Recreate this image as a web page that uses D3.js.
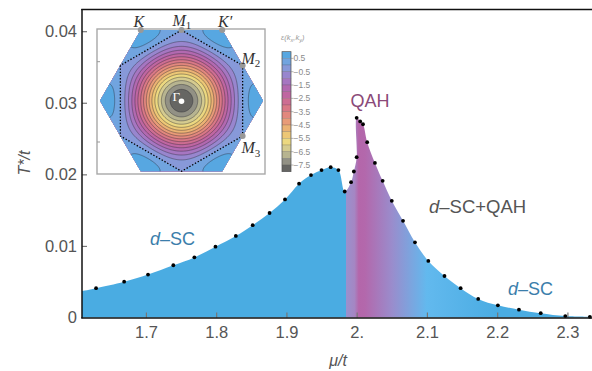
<!DOCTYPE html>
<html>
<head>
<meta charset="utf-8">
<script src="https://cdn.jsdelivr.net/npm/d3@7"></script>
<style>
  body { margin: 0; background: #fff; }
  svg { display: block; font-family: "Liberation Sans", Arial, sans-serif; }
</style>
</head>
<body>
<svg id="chart" width="592" height="371"></svg>
<script>
// transition temperature T*/t against chemical potential mu/t
const muVals = [1.629, 1.669, 1.703, 1.739, 1.769, 1.799, 1.828, 1.852, 1.876, 1.898,
  1.918, 1.935, 1.950, 1.963, 1.974, 1.983, 1.992, 1.996, 2.000, 2.000,
  2.005, 2.009, 2.015, 2.026, 2.037, 2.050, 2.066, 2.083, 2.102, 2.125,
  2.148, 2.173, 2.201, 2.231, 2.262, 2.297, 2.332];
const tVals = [0.0041, 0.0050, 0.0060, 0.0073, 0.0084, 0.0099, 0.0114, 0.0129, 0.0146, 0.0165,
  0.0187, 0.0199, 0.0206, 0.0210, 0.0206, 0.0176, 0.0189, 0.0204, 0.0224, 0.0279,
  0.0274, 0.0270, 0.0245, 0.0216, 0.0191, 0.0163, 0.0135, 0.0105, 0.0079, 0.0058,
  0.0041, 0.0026, 0.0017, 0.0011, 0.0006, 0.0002, 0.0001];
// where the filled curve meets the left frame
const edgeMu = 1.609, edgeT = 0.0037;

const xTicks = [1.7, 1.8, 1.9, 2.0, 2.1, 2.2, 2.3];
const xTickLabels = ["1.7", "1.8", "1.9", "2.", "2.1", "2.2", "2.3"];
const yTicks = [0, 0.01, 0.02, 0.03, 0.04];
const yTickLabels = ["0", "0.01", "0.02", "0.03", "0.04"];

// colour of the filled region along mu (QAH window)
const gradMu = [1.9855, 1.9855, 1.997, 2.003, 2.012, 2.05, 2.1, 2.2];
const gradColors = ["#4aace2", "#9a90cd", "#a586c3", "#b466aa", "#b368ac", "#9a8ccc", "#62b9ee", "#4aace2"];

// inset: dispersion colour scale
const barLevels = [1, 0, -1, -2, -3, -4, -5, -5.7, -6.5, -7.3, -8];
const barColors = ["#4aa9e2", "#7ea2de", "#a07dc9", "#b862a8", "#d4708a", "#e6907a",
  "#edbd72", "#eed97e", "#c9c596", "#8e8e84", "#505050"];
const barTickVals = [0.5, -0.5, -1.5, -2.5, -3.5, -4.5, -5.5, -6.5, -7.5];
const barTickLabels = ["0.5", "\u22120.5", "\u22121.5", "\u22122.5", "\u22123.5", "\u22124.5", "\u22125.5", "\u22126.5", "\u22127.5"];
const insetMu = 2;

const svg = d3.select("#chart");
const x = d3.scaleLinear().domain([1.609, 2.335]).range([82, 592]);
const y = d3.scaleLinear().domain([0, 0.0431]).range([317.5, 9]);

const points = muVals.map((m, i) => ({ mu: m, t: tVals[i] }));
const curvePts = [{ mu: edgeMu, t: edgeT }].concat(points);

// gradient along x
const defs = svg.append("defs");
const grad = defs.append("linearGradient")
  .attr("id", "phaseGrad")
  .attr("gradientUnits", "userSpaceOnUse")
  .attr("x1", x.range()[0]).attr("x2", x.range()[1])
  .attr("y1", 0).attr("y2", 0);
gradMu.forEach((m, i) => {
  grad.append("stop")
    .attr("offset", (x(m) - x.range()[0]) / (x.range()[1] - x.range()[0]))
    .attr("stop-color", gradColors[i]);
});

const area = d3.area()
  .x(d => x(d.mu))
  .y0(y(0))
  .y1(d => y(d.t))
  .curve(d3.curveCatmullRom.alpha(0.5));

svg.append("path")
  .datum(curvePts)
  .attr("d", area)
  .attr("fill", "url(#phaseGrad)");

svg.selectAll(".dot")
  .data(points)
  .enter()
  .append("circle")
  .attr("cx", d => x(d.mu))
  .attr("cy", d => y(d.t))
  .attr("r", 1.9)
  .attr("fill", "#000");

// axes
const xAxis = svg.append("g")
  .attr("transform", "translate(0," + y(0) + ")")
  .call(d3.axisBottom(x).tickValues(xTicks).tickSize(-5).tickPadding(9)
    .tickFormat((d, i) => xTickLabels[i]));
const yAxis = svg.append("g")
  .attr("transform", "translate(" + x.range()[0] + ",0)")
  .call(d3.axisLeft(y).tickValues(yTicks).tickSize(-5).tickPadding(5)
    .tickFormat((d, i) => yTickLabels[i]));
[xAxis, yAxis].forEach(g => {
  g.select(".domain").remove();
  g.selectAll(".tick line").attr("stroke", "#777").attr("stroke-width", 1.2);
  g.selectAll(".tick text").attr("fill", "#555").style("font-size", "16.5px")
    .style("font-family", "'Liberation Sans', Arial, sans-serif");
});
yAxis.selectAll(".tick").filter(d => d === 0).select("line").remove();

// frame lines (left, bottom, top)
const frame = svg.append("g").attr("stroke", "#111").attr("stroke-width", 1.5);
frame.append("line").attr("x1", 82).attr("x2", 82).attr("y1", 9).attr("y2", 318.3);
frame.append("line").attr("x1", 81.3).attr("x2", 592).attr("y1", 318).attr("y2", 318);
frame.append("line").attr("x1", 81.3).attr("x2", 592).attr("y1", 9.5).attr("y2", 9.5);

// axis titles
svg.append("text")
  .attr("x", 338).attr("y", 366)
  .attr("text-anchor", "middle")
  .attr("fill", "#555").style("font-size", "16px").style("font-style", "italic")
  .text("\u03bc/t");
svg.append("text")
  .attr("transform", "translate(30,163) rotate(-90)")
  .attr("text-anchor", "middle")
  .attr("fill", "#555").style("font-size", "16px").style("font-style", "italic")
  .text("T*/t");

// phase labels
function phaseLabel(px, py, parts, color, size) {
  const t = svg.append("text").attr("x", px).attr("y", py)
    .attr("fill", color).style("font-size", size + "px");
  parts.forEach(p => {
    t.append("tspan").style("font-style", p[1] ? "italic" : "normal").text(p[0]);
  });
}
phaseLabel(150, 245, [["d", true], ["\u2013SC", false]], "#3b7eab", 18);
phaseLabel(350.5, 107, [["QAH", false]], "#8a4a78", 18);
phaseLabel(429, 213, [["d", true], ["\u2013SC+QAH", false]], "#555", 18.5);
phaseLabel(508, 295, [["d", true], ["\u2013SC", false]], "#3b7eab", 18);

// ---------------- inset: band dispersion in the Brillouin zone ----------------
const inset = svg.append("g");
inset.append("rect")
  .attr("x", 97).attr("y", 29).attr("width", 168).attr("height", 145)
  .attr("fill", "#fff").attr("stroke", "#a8a8a8").attr("stroke-width", 1.4);
[61.7, 142].forEach(ty => {
  inset.append("line").attr("x1", 97).attr("x2", 100).attr("y1", ty).attr("y2", ty)
    .attr("stroke", "#999").attr("stroke-width", 1);
});

const cx = 181.5, cy = 100.7, R = 81.5;
const kScale = R / (4 * Math.PI / 3);
const apothem = R * Math.sqrt(3) / 2;

function band(kx, ky) {
  return -2 * (Math.cos(kx) + 2 * Math.cos(kx / 2) * Math.cos(Math.sqrt(3) * ky / 2)) - insetMu;
}

const bzHex = d3.range(6).map(i => {
  const a = i * Math.PI / 3;
  return [cx + R * Math.cos(a), cy - R * Math.sin(a)];
});
defs.append("clipPath").attr("id", "bzClip")
  .append("path").attr("d", "M" + bzHex.join("L") + "Z");

const gx0 = 98, gy0 = 28, gw = 168, gh = 148;
const field = new Float64Array(gw * gh);
for (let j = 0; j < gh; j++) {
  for (let i = 0; i < gw; i++) {
    const kx = (gx0 + i + 0.5 - cx) / kScale;
    const ky = -(gy0 + j + 0.5 - cy) / kScale;
    field[j * gw + i] = band(kx, ky);
  }
}
const levels = d3.range(-8, 1.0001, 0.5);
const color = d3.scaleLinear().domain(barLevels).range(barColors);
const contours = d3.contours().size([gw, gh]).thresholds(levels)(field);
const gpath = d3.geoPath(d3.geoIdentity().translate([gx0, gy0]));

const cg = inset.append("g").attr("clip-path", "url(#bzClip)");
cg.selectAll(".band")
  .data(contours)
  .enter()
  .append("path")
  .attr("d", gpath)
  .attr("fill", d => color(d.value + 0.25))
  .attr("stroke", "none");
cg.selectAll(".iso")
  .data(contours.filter(d => d.value > -8 && d.value < 1 && d.value !== 0))
  .enter()
  .append("path")
  .attr("d", gpath)
  .attr("fill", "none")
  .attr("stroke", "rgba(40,40,50,0.6)")
  .attr("stroke-width", 0.7);

// van Hove Fermi surface (through M points)
const mHex = d3.range(6).map(i => {
  const a = Math.PI / 2 + i * Math.PI / 3;
  return [cx + apothem * Math.cos(a), cy - apothem * Math.sin(a)];
});
inset.append("path")
  .attr("d", "M" + mHex.join("L") + "Z")
  .attr("fill", "none").attr("stroke", "#000")
  .attr("stroke-width", 1.3).attr("stroke-dasharray", "1.4,1.8");

// high-symmetry points
const kPts = [
  [cx - R / 2, cy - apothem], [cx, cy - apothem], [cx + R / 2, cy - apothem],
  [cx + apothem * Math.cos(Math.PI / 6), cy - apothem / 2],
  [cx + apothem * Math.cos(Math.PI / 6), cy + apothem / 2]
];
inset.selectAll(".kpt").data(kPts).enter().append("circle")
  .attr("cx", d => d[0]).attr("cy", d => d[1]).attr("r", 3).attr("fill", "#999");
inset.append("circle").attr("cx", cx).attr("cy", cy + 0.5).attr("r", 2.8).attr("fill", "#fff");

function symLabel(px, py, main, sub, col, size) {
  const t = inset.append("text").attr("x", px).attr("y", py)
    .attr("fill", col || "#333")
    .style("font-family", "'Liberation Serif', 'DejaVu Serif', serif")
    .style("font-size", (size || 16) + "px").style("font-style", "italic")
    .text(main);
  if (sub) {
    t.append("tspan").attr("dy", 3.5).style("font-size", "11px").style("font-style", "normal").text(sub);
  }
}
symLabel(133.5, 26.5, "K");
symLabel(172.5, 25.5, "M", "1");
symLabel(218, 26.5, "K\u2032");
symLabel(241.5, 63.5, "M", "2");
symLabel(241.5, 153, "M", "3");
inset.append("text").attr("x", 172.5).attr("y", 100.5)
  .attr("fill", "#fff")
  .style("font-family", "'Liberation Serif', 'DejaVu Serif', serif")
  .style("font-size", "13px").text("\u0393");

// colour bar
const barY = d3.scaleLinear().domain([1, -8]).range([51.7, 171.7]);
const bar = svg.append("g");
d3.range(18).forEach(i => {
  const top = 1 - 0.5 * i;
  bar.append("rect")
    .attr("x", 282).attr("width", 9)
    .attr("y", barY(top)).attr("height", barY(top - 0.5) - barY(top))
    .attr("fill", color(top - 0.25))
    .attr("stroke", "rgba(60,60,60,0.35)").attr("stroke-width", 0.5);
});
bar.append("rect").attr("x", 282).attr("y", barY(1)).attr("width", 9)
  .attr("height", barY(-8) - barY(1)).attr("fill", "none")
  .attr("stroke", "#555").attr("stroke-width", 0.6);
barTickVals.forEach((v, i) => {
  bar.append("line").attr("x1", 291).attr("x2", 293.5)
    .attr("y1", barY(v)).attr("y2", barY(v)).attr("stroke", "#888").attr("stroke-width", 0.6);
  bar.append("text").attr("x", 293.5).attr("y", barY(v) + 3)
    .attr("fill", "#8a8a8a").style("font-size", "8.5px").text(barTickLabels[i]);
});
const barTitle = bar.append("text").attr("x", 281).attr("y", 40)
  .attr("fill", "#999").style("font-size", "7.5px").style("font-style", "italic");
barTitle.append("tspan").text("\u03b5(k");
barTitle.append("tspan").attr("dy", 2).style("font-size", "5.5px").text("x");
barTitle.append("tspan").attr("dy", -2).text(",k");
barTitle.append("tspan").attr("dy", 2).style("font-size", "5.5px").text("y");
barTitle.append("tspan").attr("dy", -2).text(")");
</script>
</body>
</html>
